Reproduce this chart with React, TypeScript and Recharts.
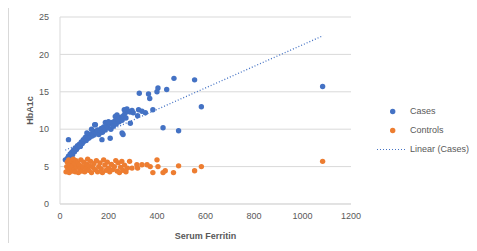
import React from 'react';
import {
  ScatterChart,
  Scatter,
  XAxis,
  YAxis,
  CartesianGrid,
} from 'recharts';

const CASE_X = [
  22, 30, 35, 40, 42, 48, 52, 55, 60, 63, 68, 72, 75, 80, 84, 88, 92, 96, 100, 104,
  108, 112, 118, 122, 126, 132, 138, 142, 150, 155, 160, 165, 170, 175, 180, 186, 192, 198, 205, 210,
  215, 220, 226, 232, 238, 244, 250, 256, 262, 268, 272, 280, 207, 173, 111, 130, 143, 187, 200, 35,
  470, 555, 327, 365, 370, 400, 404, 440, 583, 1083, 425, 489, 383, 297, 324, 338, 352, 320, 290, 276,
  265, 289, 302, 235, 228, 240, 146, 256, 260,
];
const CASE_Y = [
  5.9, 6.1, 6.4, 6.2, 6.7, 6.9, 6.6, 7.2, 7.0, 7.5, 7.3, 7.8, 7.6, 8.0, 7.7, 8.3, 8.1, 8.6, 8.4, 8.9,
  8.5, 9.1, 8.8, 9.3, 9.0, 9.4, 9.2, 9.7, 9.5, 9.9, 9.3, 9.8, 10.1, 9.6, 10.3, 9.9, 10.5, 10.2, 10.7, 10.0,
  10.9, 10.4, 11.1, 10.7, 11.4, 11.0, 11.6, 11.2, 11.8, 12.1, 11.5, 12.4, 8.8, 8.6, 9.5, 10.0, 10.6, 10.9, 11.0, 8.6,
  16.8, 16.6, 14.8, 14.7, 14.1, 15.0, 15.5, 15.3, 13.0, 15.7, 10.2, 9.8, 12.6, 12.5, 12.6, 12.4, 12.2, 11.8, 10.8, 12.7,
  12.6, 12.3, 12.2, 11.9, 11.7, 11.3, 10.6, 9.5, 9.3,
];

const CONTROL_X = [
  25, 28, 30, 33, 36, 38, 40, 44, 47, 50, 52, 55, 58, 60, 63, 66, 70, 73, 76, 80,
  83, 86, 90, 94, 98, 102, 106, 110, 114, 118, 122, 126, 130, 135, 140, 145, 150, 155, 160, 165,
  170, 175, 180, 185, 190, 195, 200, 205, 212, 218, 224, 230, 236, 240, 245, 250, 255, 260, 266, 272,
  278, 287, 297, 317, 320, 338, 359, 372, 383, 400, 404, 425, 434, 468, 489, 555, 583, 1083,
];
const CONTROL_Y = [
  4.3, 5.0, 5.6, 4.6, 5.9, 4.2, 5.3, 4.8, 5.7, 4.4, 5.1, 6.0, 4.6, 5.4, 4.3, 5.8, 4.9, 5.5, 4.2, 5.2,
  4.7, 5.9, 4.4, 5.0, 5.6, 4.3, 4.8, 5.3, 6.0, 4.5, 5.1, 5.7, 4.2, 4.9, 5.4, 4.6, 5.8, 4.3, 5.0, 5.5,
  4.7, 4.2, 5.9, 5.2, 4.5, 5.6, 4.8, 4.3, 5.3, 4.6, 5.0, 5.8, 4.4, 5.5, 4.2, 4.9, 5.7, 4.5, 5.2, 4.3,
  4.8, 5.7, 4.8, 5.25, 4.8, 5.25, 5.25, 5.0, 4.2, 5.9, 5.0, 4.2, 4.45, 4.2, 5.1, 4.45, 5.0, 5.7,
];

// endpoints of Excel's "Linear (Cases)" trendline
const TREND_X = [22, 1085];
const TREND_Y = [7.2, 22.5];

const X_TICKS = [0, 200, 400, 600, 800, 1000, 1200];
const Y_TICKS = [0, 5, 10, 15, 20, 25];

const cases = CASE_X.map((x, i) => ({ x, y: CASE_Y[i] }));
const controls = CONTROL_X.map((x, i) => ({ x, y: CONTROL_Y[i] }));
const trend = TREND_X.map((x, i) => ({ x, y: TREND_Y[i] }));

const BLUE = '#4472C4';
const ORANGE = '#ED7D31';
const GREY = '#595959';
const FONT = '"Liberation Sans", Arial, sans-serif';

const dot = (color: string) => (p: any) => <circle cx={p.cx} cy={p.cy} r={2.7} fill={color} />;

export default function App() {
  const tick = { fill: GREY, fontSize: 9, fontFamily: FONT };
  return (
    <div style={{ position: 'relative', width: 477, height: 251, margin: -8, overflow: 'hidden', fontFamily: FONT, background: '#fff' }}>
      <div style={{ position: 'absolute', left: 8, top: 5, width: 480, height: 260, border: '1px solid #d9d9d9' }} />
      <ScatterChart
        width={477}
        height={251}
        margin={{ top: 17, right: 126, bottom: 17, left: 0 }}
        style={{ position: 'absolute', left: 0, top: 0 }}
      >
        <CartesianGrid vertical={false} stroke="#d9d9d9" />
        <XAxis
          type="number"
          dataKey="x"
          domain={[0, 1200]}
          ticks={X_TICKS}
          height={30}
          tickLine={false}
          axisLine={{ stroke: '#d9d9d9' }}
          tickMargin={3}
          tick={tick}
          label={{ value: 'Serum Ferritin', position: 'insideBottom', offset: -5, fill: GREY, fontSize: 9, fontWeight: 'bold', fontFamily: FONT }}
        />
        <YAxis
          type="number"
          dataKey="y"
          domain={[0, 25]}
          ticks={Y_TICKS}
          width={60}
          tickLine={false}
          axisLine={{ stroke: '#d9d9d9' }}
          tickMargin={5}
          tick={tick}
          label={{ value: 'HbA1c', angle: -90, position: 'center', fill: GREY, fontSize: 9, fontWeight: 'bold', fontFamily: FONT }}
        />
        <Scatter name="Cases" data={cases} shape={dot(BLUE)} isAnimationActive={false} />
        <Scatter name="Controls" data={controls} shape={dot(ORANGE)} isAnimationActive={false} />
        <Scatter
          name="Linear (Cases)"
          data={trend}
          line={{ stroke: BLUE, strokeWidth: 1.3, strokeDasharray: '1 2' }}
          shape={() => <g />}
          isAnimationActive={false}
        />
      </ScatterChart>
      <div style={{ position: 'absolute', left: 377, top: 101.5, fontSize: 9, color: GREY, lineHeight: '19px' }}>
        {[
          { label: 'Cases', color: BLUE, kind: 'dot' },
          { label: 'Controls', color: ORANGE, kind: 'dot' },
          { label: 'Linear (Cases)', color: BLUE, kind: 'line' },
        ].map((item) => (
          <div key={item.label} style={{ display: 'flex', alignItems: 'center', height: 19 }}>
            <svg width={31} height={19}>
              {item.kind === 'dot' ? (
                <circle cx={15.7} cy={9.5} r={2.7} fill={item.color} />
              ) : (
                <line x1={0} x2={30} y1={9.5} y2={9.5} stroke={item.color} strokeWidth={1.2} strokeDasharray="1 2" />
              )}
            </svg>
            <span style={{ marginLeft: 2, whiteSpace: 'nowrap' }}>{item.label}</span>
          </div>
        ))}
      </div>
    </div>
  );
}
